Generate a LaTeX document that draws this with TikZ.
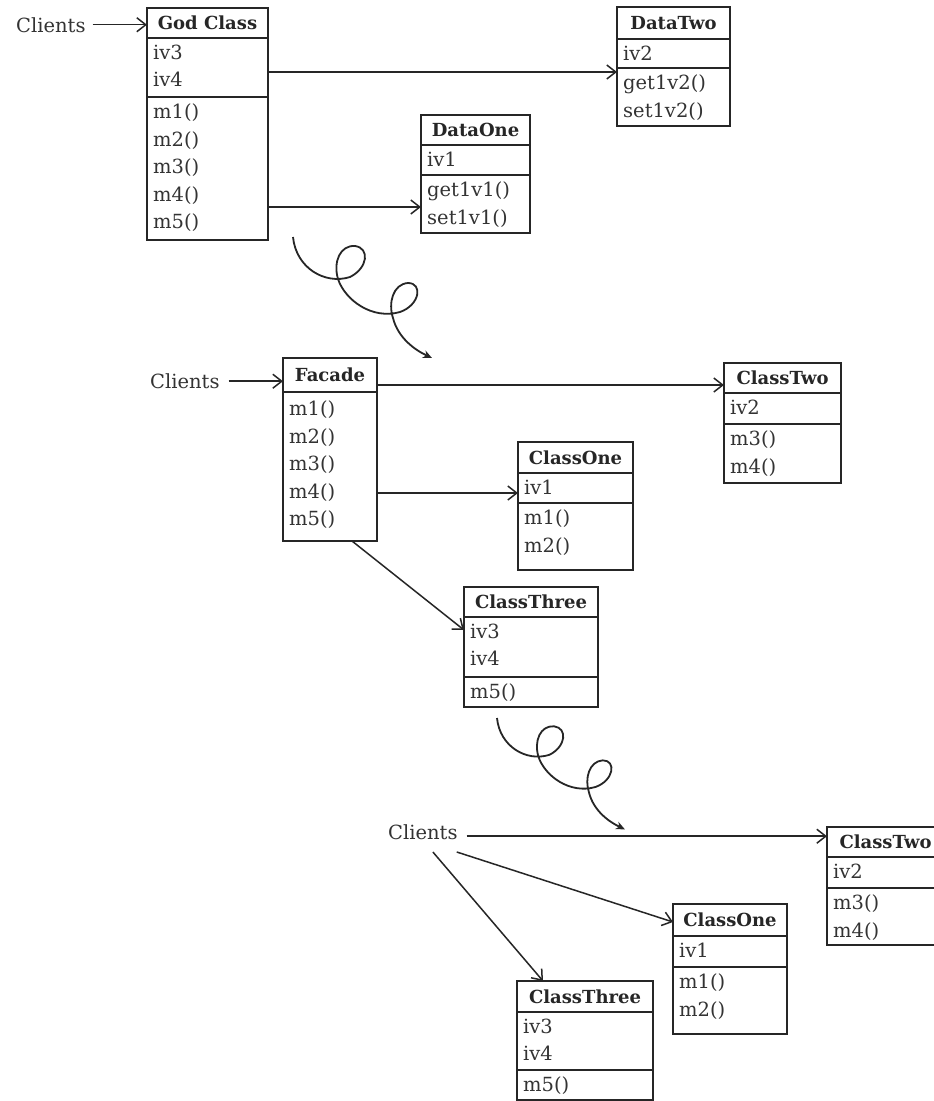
\documentclass[tikz,border=0pt]{standalone}
\usepackage{fontspec}
\setmainfont{DejaVu Serif}
\usetikzlibrary{arrows.meta,calc}

% horizontal compartment divider inside a class box, #2 pt below its top edge
\newcommand\splitat[2]{\draw[sepline] ([yshift=-#2pt]#1.north west) -- ([yshift=-#2pt]#1.north east);}

\begin{document}
\begin{tikzpicture}[x=1pt,y=1pt,
  classframe/.style={draw=black!85, line width=2.1pt, anchor=north west, inner sep=0pt, outer sep=0pt},
  sepline/.style={draw=black!85, line width=1.9pt},
  classname/.style={anchor=base, font=\fontsize{18}{22}\selectfont\bfseries, text=black!85, inner sep=0pt},
  members/.style={anchor=north west, align=left, font=\fontsize{19.5}{27.5}\selectfont, text=black!80,
    inner xsep=6pt, inner ysep=6.5pt},
  clientlabel/.style={anchor=base west, font=\fontsize{19.5}{24}\selectfont, text=black!80, inner sep=2pt},
  link/.style={draw=black!85, line width=1.5pt, -{Straight Barb[length=9pt,width=14pt,line width=1.5pt]}},
  twirlline/.style={draw=black!85, line width=1.8pt, -{Stealth[length=9pt,width=8pt]}},
  twirl/.pic={
    \draw[twirlline] (0,0)
      .. controls (3,-31) and (32,-48) .. (57,-40)
      .. controls (75,-31) and (77,-11) .. (62,-9)
      .. controls (47,-8) and (40,-25) .. (45,-42)
      .. controls (52,-63) and (79,-83) .. (107,-75)
      .. controls (127,-68) and (130,-46) .. (115,-46)
      .. controls (100,-47) and (95,-66) .. (100,-81)
      .. controls (105,-101) and (122,-113) .. (139,-121);
  }
]
\useasboundingbox (0,0) rectangle (934,-1101);
\fill[white] (0,0) rectangle (934,-1101);
\clip (0,0) rectangle (934,-1101);

% ---------------- before: the god class ----------------
\node[clientlabel] (clientsA) at (14,-32) {Clients};

\node[classframe, minimum width=121pt, minimum height=232pt] (god) at (147,-8) {};
\node[classname] (god-name) at ([yshift=-21.5pt]god.north) {God Class};
\splitat{god}{30}
\splitat{god}{89}
\node[members] (god-attrs) at ([yshift=-30pt]god.north west) {iv3\\iv4};
\node[members] (god-ops) at ([yshift=-89pt]god.north west) {m1()\\m2()\\m3()\\m4()\\m5()};

\node[classframe, minimum width=113pt, minimum height=119pt] (datatwo) at (617,-7) {};
\node[classname] (datatwo-name) at ([yshift=-22.5pt]datatwo.north) {DataTwo};
\splitat{datatwo}{32}
\splitat{datatwo}{61}
\node[members] (datatwo-attrs) at ([yshift=-32pt]datatwo.north west) {iv2};
\node[members] (datatwo-ops) at ([yshift=-61pt]datatwo.north west) {get1v2()\\set1v2()};

\node[classframe, minimum width=109pt, minimum height=118pt] (dataone) at (421,-115) {};
\node[classname] (dataone-name) at ([yshift=-21.5pt]dataone.north) {DataOne};
\splitat{dataone}{30}
\splitat{dataone}{60}
\node[members] (dataone-attrs) at ([yshift=-30pt]dataone.north west) {iv1};
\node[members] (dataone-ops) at ([yshift=-60pt]dataone.north west) {get1v1()\\set1v1()};

\draw[link] ([xshift=5pt]clientsA.east) -- (clientsA.east -| god.west);
\coordinate (godA) at ([yshift=-64pt]god.north east);
\draw[link] (godA) -- (godA -| datatwo.west);
\coordinate (godB) at ([yshift=-199pt]god.north east);
\draw[link] (godB) -- (godB -| dataone.west);

\pic at (293,-237) {twirl};

% ---------------- step 1: a facade in front ----------------
\node[clientlabel] (clientsB) at (148,-388.5) {Clients};

\node[classframe, minimum width=94pt, minimum height=183pt] (facade) at (283,-358) {};
\node[classname] (facade-name) at ([yshift=-23.5pt]facade.north) {Facade};
\splitat{facade}{34}
\node[members] (facade-ops) at ([yshift=-36pt]facade.north west) {m1()\\m2()\\m3()\\m4()\\m5()};

\node[classframe, minimum width=117pt, minimum height=120pt] (ctwoA) at (724,-363) {};
\node[classname] (ctwoA-name) at ([yshift=-21.5pt]ctwoA.north) {ClassTwo};
\splitat{ctwoA}{30}
\splitat{ctwoA}{61}
\node[members] (ctwoA-attrs) at ([yshift=-30pt]ctwoA.north west) {iv2};
\node[members] (ctwoA-ops) at ([yshift=-61pt]ctwoA.north west) {m3()\\m4()};

\node[classframe, minimum width=115pt, minimum height=128pt] (coneA) at (518,-442) {};
\node[classname] (coneA-name) at ([yshift=-22pt]coneA.north) {ClassOne};
\splitat{coneA}{31}
\splitat{coneA}{61}
\node[members] (coneA-attrs) at ([yshift=-31pt]coneA.north west) {iv1};
\node[members] (coneA-ops) at ([yshift=-61pt]coneA.north west) {m1()\\m2()};

\node[classframe, minimum width=134pt, minimum height=120pt] (cthreeA) at (464,-587) {};
\node[classname] (cthreeA-name) at ([yshift=-21.5pt]cthreeA.north) {ClassThree};
\splitat{cthreeA}{30}
\splitat{cthreeA}{90}
\node[members] (cthreeA-attrs) at ([yshift=-30pt]cthreeA.north west) {iv3\\iv4};
\node[members] (cthreeA-ops) at ([yshift=-90pt]cthreeA.north west) {m5()};

\draw[link] ([xshift=7pt]clientsB.east) -- (clientsB.east -| facade.west);
\coordinate (facA) at ([yshift=-27pt]facade.north east);
\draw[link] (facA) -- (facA -| ctwoA.west);
\coordinate (facB) at ([yshift=-135pt]facade.north east);
\draw[link] (facB) -- (facB -| coneA.west);
\draw[link] ([xshift=22pt]facade.south) -- ([yshift=-43pt]cthreeA.north west);

\pic[scale=0.92] at (497,-718) {twirl};

% ---------------- step 2: clients use the classes directly ----------------
\node[clientlabel] (clientsC) at (386,-839.5) {Clients};

\node[classframe, minimum width=117pt, minimum height=118pt] (ctwoB) at (827,-827) {};
\node[classname] (ctwoB-name) at ([yshift=-21.5pt]ctwoB.north) {ClassTwo};
\splitat{ctwoB}{30}
\splitat{ctwoB}{61}
\node[members] (ctwoB-attrs) at ([yshift=-30pt]ctwoB.north west) {iv2};
\node[members] (ctwoB-ops) at ([yshift=-61pt]ctwoB.north west) {m3()\\m4()};

\node[classframe, minimum width=114pt, minimum height=130pt] (coneB) at (673,-904) {};
\node[classname] (coneB-name) at ([yshift=-22.5pt]coneB.north) {ClassOne};
\splitat{coneB}{32}
\splitat{coneB}{63}
\node[members] (coneB-attrs) at ([yshift=-32pt]coneB.north west) {iv1};
\node[members] (coneB-ops) at ([yshift=-63pt]coneB.north west) {m1()\\m2()};

\node[classframe, minimum width=136pt, minimum height=119pt] (cthreeB) at (517,-981) {};
\node[classname] (cthreeB-name) at ([yshift=-22pt]cthreeB.north) {ClassThree};
\splitat{cthreeB}{31}
\splitat{cthreeB}{89}
\node[members] (cthreeB-attrs) at ([yshift=-31pt]cthreeB.north west) {iv3\\iv4};
\node[members] (cthreeB-ops) at ([yshift=-89pt]cthreeB.north west) {m5()};

\coordinate (cliA) at ([xshift=7pt,yshift=-4pt]clientsC.east);
\draw[link] (cliA) -- (cliA -| ctwoB.west);
\draw[link] ([xshift=-3pt,yshift=-10pt]clientsC.south east) -- ([yshift=-18pt]coneB.north west);
\draw[link] ([xshift=10pt,yshift=-10pt]clientsC.south) -- ([xshift=26pt]cthreeB.north west);

\end{tikzpicture}
\end{document}
